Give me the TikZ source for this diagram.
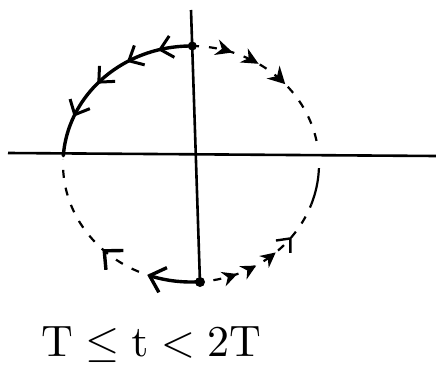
\documentclass[tikz,border=0pt]{standalone}
\usetikzlibrary{arrows.meta,decorations.markings}
\begin{document}
\begin{tikzpicture}[x=1pt,y=-1pt,
  axisline/.style={line width=2.6pt},
  solidarc/.style={line width=3.4pt,line cap=round},
  dasharc/.style={line width=2.2pt,dash pattern=on 8pt off 10pt},
  ulbarb/.style={solid,line cap=round},
  barbs/.style={postaction={decorate},decoration={markings,
     mark=at position 0.18 with {\arrow[ulbarb]{Straight Barb[length=12pt,width=22pt,line width=3pt]}},
     mark=at position 0.36 with {\arrow[ulbarb]{Straight Barb[length=12pt,width=22pt,line width=3pt]}},
     mark=at position 0.56 with {\arrow[ulbarb]{Straight Barb[length=12pt,width=22pt,line width=3pt]}},
     mark=at position 0.78 with {\arrow[ulbarb]{Straight Barb[length=12pt,width=22pt,line width=3pt]}}}},
  urarrows/.style={postaction={decorate},decoration={markings,
     mark=at position 0.24 with {\arrow[solid]{Stealth[length=17pt,width=16pt]}},
     mark=at position 0.40 with {\arrow[solid]{Stealth[length=17pt,width=16pt]}},
     mark=at position 0.59 with {\arrow[solid]{Stealth[length=17pt,width=18pt]}}}},
  lrarrows/.style={postaction={decorate},decoration={markings,
     mark=at position 0.29 with {\arrow[solid]{Stealth[length=15pt,width=15pt]}},
     mark=at position 0.43 with {\arrow[solid]{Stealth[length=15pt,width=15pt]}},
     mark=at position 0.59 with {\arrow[solid]{Stealth[length=15pt,width=15pt]}},
     mark=at position 0.74 with {\arrow[ulbarb]{Straight Barb[length=11pt,width=19pt,line width=2.4pt]}}}},
  llarrows/.style={postaction={decorate},decoration={markings,
     mark=at position 0.30 with {\arrow[ulbarb]{Straight Barb[length=14pt,width=26pt,line width=3.4pt]}}}}
]
\useasboundingbox (0,0) rectangle (436,369);
% axes
\draw[axisline] (8,153) -- (436,156);
\draw[axisline] (191,10) -- (200,283);
% upper-left: solid, counterclockwise
\draw[solidarc,barbs] plot[domain=-90:-176,samples=80] ({191+128*cos(\x)},{164+118*sin(\x)});
% upper-right: dashed, clockwise
\draw[dasharc,urarrows] plot[domain=-90:-8,samples=80] ({191+128*cos(\x)},{164+118*sin(\x)});
% lower-right: dashed, from bottom towards right
\draw[dasharc,lrarrows] plot[domain=88:20,samples=80] ({191+128*cos(\x)},{164+118*sin(\x)});
\draw[line width=2.2pt] plot[domain=20:2,samples=30] ({191+128*cos(\x)},{164+118*sin(\x)});
% lower-left: solid piece with arrow, then dashed
\draw[solidarc,-{Straight Barb[length=14pt,width=26pt,line width=3.4pt]}] plot[domain=86:110,samples=30] ({191+128*cos(\x)},{164+118*sin(\x)});
\draw[dasharc,llarrows] plot[domain=114:182,samples=80] ({191+128*cos(\x)},{164+118*sin(\x)});
% dots
\fill (192.3,46) circle (4.5pt);
\fill (200,282) circle (5pt);
% label
\node[scale=4.4,transform shape] (lbl) at (151,344) {$\mathrm{T}\leq \mathrm{t}<2\mathrm{T}$};
\end{tikzpicture}
\end{document}
